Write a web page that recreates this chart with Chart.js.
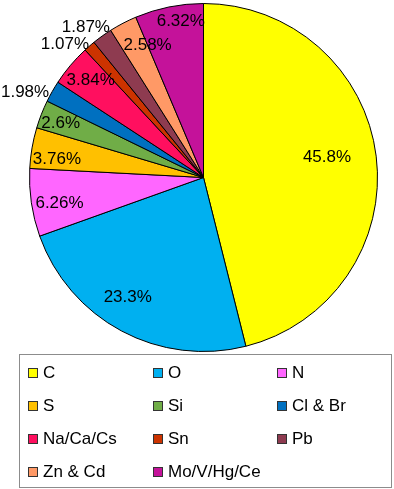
<!DOCTYPE html>
<html>
<head>
<meta charset="utf-8">
<script src="https://cdn.jsdelivr.net/npm/chart.js@4/dist/chart.umd.min.js"></script>
<style>
    html, body { margin: 0; padding: 0; background: #fff; }
    body { width: 394px; height: 489px; position: relative; overflow: hidden; font-family: "Liberation Sans", Arial, sans-serif; }
    #pie-wrap { position: absolute; left: 0; top: 0; width: 394px; height: 355px; }
    #legend {
        position: absolute; left: 19px; top: 354px; width: 371px; height: 131px;
        border: 1px solid #8c8c8c; box-sizing: content-box;
        display: grid; grid-template-columns: 125px 124px 122px; grid-auto-rows: 33px;
        padding-top: 1px;
    }
    .item { display: flex; align-items: center; padding-left: 8px; font-size: 17px; color: #000; }
    .box { width: 8px; height: 8px; border: 1px solid #333; margin-right: 5px; flex: none; }
</style>
</head>
<body>
<div id="pie-wrap"><canvas id="pie"></canvas></div>
<div id="legend"></div>
<script>
// 元素类别
const elements = ['C', 'O', 'N', 'S', 'Si', 'Cl & Br', 'Na/Ca/Cs', 'Sn', 'Pb', 'Zn & Cd', 'Mo/V/Hg/Ce'];
// 百分比
const shares = [45.8, 23.3, 6.26, 3.76, 2.6, 1.98, 3.84, 1.07, 1.87, 2.58, 6.32];
// 标签文字
const shareLabels = ['45.8%', '23.3%', '6.26%', '3.76%', '2.6%', '1.98%', '3.84%', '1.07%', '1.87%', '2.58%', '6.32%'];
const colors = ['#FFFF00', '#00B0F0', '#FF66FF', '#FFC000', '#70AD47', '#0070C0',
                '#FF0F5F', '#CC3300', '#8E3B50', '#FF9966', '#C4129A'];

// 标签摆放（半径比例、角度微调，单位度）—— 仿 Excel 的 "最佳位置"
const labelRadius = [0.72, 0.81, 0.84, 0.85, 0.88, 1.14, 0.86, 1.11, 1.10, 0.83, 0.91];
const labelNudge = [-2.6, 4.4, -1.6, -2.2, -0.2, -3.7, 0.9, -4.9, -2.3, 4.8, 3.2];

// 扇区上的百分比标签
const sliceLabels = {
    id: 'sliceLabels',
    afterDatasetsDraw(chart) {
        const ctx = chart.ctx;
        const arcs = chart.getDatasetMeta(0).data;
        ctx.save();
        ctx.font = '17px "Liberation Sans", Arial, sans-serif';
        ctx.fillStyle = '#000';
        ctx.textAlign = 'center';
        ctx.textBaseline = 'middle';
        arcs.forEach(function(arc, i) {
            const p = arc.getProps(['x', 'y', 'startAngle', 'endAngle', 'outerRadius'], true);
            const mid = (p.startAngle + p.endAngle) / 2 + labelNudge[i] * Math.PI / 180;
            const r = p.outerRadius * labelRadius[i];
            ctx.fillText(shareLabels[i], p.x + Math.cos(mid) * r, p.y + Math.sin(mid) * r + 1);
        });
        ctx.restore();
    }
};

new Chart(document.getElementById('pie'), {
    type: 'pie',
    data: {
        labels: elements,
        datasets: [{
            data: shares,
            backgroundColor: colors,
            borderColor: '#000',
            borderWidth: 1
        }]
    },
    options: {
        responsive: true,
        maintainAspectRatio: false,
        animation: false,
        layout: { padding: { left: 29, right: 16, top: 3, bottom: 3 } },
        plugins: {
            legend: { display: false },
            tooltip: { enabled: false }
        }
    },
    plugins: [sliceLabels]
});

// 图例
const legend = document.getElementById('legend');
elements.forEach(function(name, i) {
    const item = document.createElement('div');
    item.className = 'item';
    const box = document.createElement('span');
    box.className = 'box';
    box.style.background = colors[i];
    item.appendChild(box);
    item.appendChild(document.createTextNode(name));
    legend.appendChild(item);
});
</script>
</body>
</html>
